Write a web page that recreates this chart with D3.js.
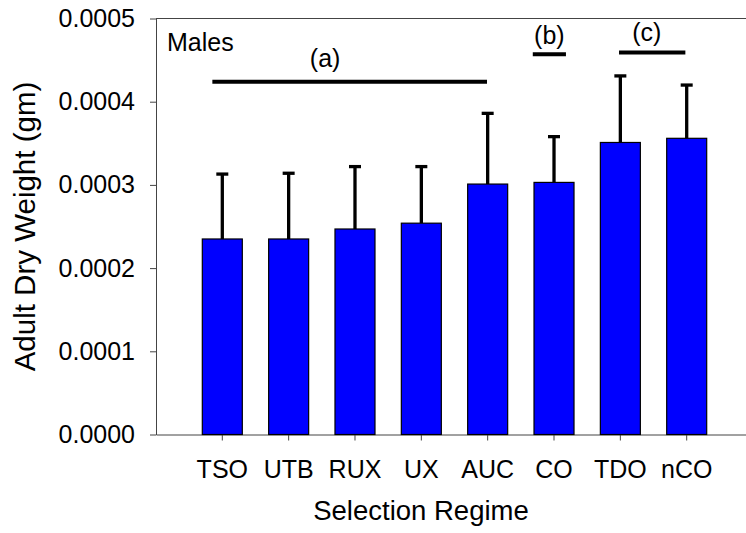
<!DOCTYPE html>
<html>
<head>
<meta charset="utf-8">
<script src="https://cdn.jsdelivr.net/npm/d3@7"></script>
<style>
  body { margin: 0; background: #fff; }
  svg { display: block; font-family: "Liberation Sans", Arial, sans-serif; }
  .axis path, .axis line { stroke: #444; }
  .axis text { fill: #000; font-size: 25px; }
</style>
</head>
<body>
<svg id="chart"></svg>
<script>
// data
let regimes = ['TSO', 'UTB', 'RUX', 'UX', 'AUC', 'CO', 'TDO', 'nCO']
let weights = [0.000235, 0.000235, 0.000247, 0.000254, 0.000301, 0.000303, 0.000351, 0.000356]
let errors = [0.000078, 0.000079, 0.000075, 0.000068, 0.000085, 0.000055, 0.000080, 0.000064]
let yTicks = [0, 0.0001, 0.0002, 0.0003, 0.0004, 0.0005]

// significance groups (from/to/labelAt are in category index units)
let groupLabels = ['(a)', '(b)', '(c)']
let groupFrom = [-0.15, 4.68, 5.98]
let groupTo = [3.99, 5.18, 6.98]
let groupLabelAt = [1.55, 4.93, 6.4]
let groupLevel = [0.000424, 0.000457, 0.000459]
let groupLabelLevel = [0.000442, 0.000469, 0.000473]

function getConfig(){
    let width = 746, height = 533
    let margin = { left: 156, top: 18.5, bottom: 98.5 }
    let plotRight = 753
    let container = d3.select('#chart')
        .attr('width', width)
        .attr('height', height)
    return { width, height, margin, plotRight, container }
}

function getScales(config){
    let { margin, height, plotRight } = config
    let xScale = d3.scaleBand()
        .domain(regimes)
        .range([margin.left, plotRight])
        .paddingInner(0.397)
        .paddingOuter(0.698)
    let yScale = d3.scaleLinear()
        .domain([0, 0.0005])
        .range([height - margin.bottom, margin.top])
    // index -> centre of that category
    let idxScale = d3.scaleLinear()
        .domain([0, 1])
        .range([xScale(regimes[0]) + xScale.bandwidth() / 2,
                xScale(regimes[1]) + xScale.bandwidth() / 2])
    return { xScale, yScale, idxScale }
}

function drawAxes(scales, config){
    let { xScale, yScale } = scales
    let { container, margin, height, plotRight } = config

    // top frame line
    container.append('line')
        .attr('x1', margin.left).attr('x2', plotRight)
        .attr('y1', yScale(0.0005)).attr('y2', yScale(0.0005))
        .attr('stroke', '#444')

    container.append('g')
        .attr('class', 'axis')
        .attr('transform', `translate(0,${yScale(0)})`)
        .call(d3.axisBottom(xScale).tickSize(6).tickSizeOuter(0).tickPadding(20))

    container.append('g')
        .attr('class', 'axis')
        .attr('transform', `translate(${margin.left},0)`)
        .call(d3.axisLeft(yScale).tickValues(yTicks).tickFormat(d3.format('.4f'))
            .tickSize(6).tickSizeOuter(0).tickPadding(15))

    container.append('text')
        .attr('x', 421).attr('y', 520)
        .attr('text-anchor', 'middle')
        .style('font-size', '27.5px')
        .text('Selection Regime')

    container.append('text')
        .attr('transform', `translate(35,${(yScale(0) + yScale(0.0005)) / 2}) rotate(-90)`)
        .attr('text-anchor', 'middle')
        .style('font-size', '29.5px')
        .text('Adult Dry Weight (gm)')
}

function drawBars(scales, config){
    let { xScale, yScale } = scales
    let { container } = config
    let data = regimes.map((r, i) => ({ r, w: weights[i], e: errors[i] }))
    let cx = d => xScale(d.r) + xScale.bandwidth() / 2

    let errG = container.append('g')
    errG.selectAll('line.stem').data(data).join('line')
        .attr('x1', cx).attr('x2', cx)
        .attr('y1', d => yScale(d.w)).attr('y2', d => yScale(d.w + d.e))
        .attr('stroke', '#000').attr('stroke-width', 3.3)
    errG.selectAll('line.cap').data(data).join('line')
        .attr('x1', d => cx(d) - 6).attr('x2', d => cx(d) + 6)
        .attr('y1', d => yScale(d.w + d.e)).attr('y2', d => yScale(d.w + d.e))
        .attr('stroke', '#000').attr('stroke-width', 3.3)

    container.append('g').selectAll('rect').data(data).join('rect')
        .attr('x', d => xScale(d.r))
        .attr('y', d => yScale(d.w))
        .attr('width', xScale.bandwidth())
        .attr('height', d => yScale(0) - yScale(d.w))
        .attr('fill', '#0000ff')
        .attr('stroke', '#000')
        .attr('stroke-width', 1.2)
}

function drawGroups(scales, config){
    let { yScale, idxScale } = scales
    let { container } = config
    groupLabels.forEach((label, i) => {
        container.append('line')
            .attr('x1', idxScale(groupFrom[i])).attr('x2', idxScale(groupTo[i]))
            .attr('y1', yScale(groupLevel[i])).attr('y2', yScale(groupLevel[i]))
            .attr('stroke', '#000').attr('stroke-width', 4)
        container.append('text')
            .attr('x', idxScale(groupLabelAt[i]))
            .attr('y', yScale(groupLabelLevel[i]))
            .attr('text-anchor', 'middle')
            .style('font-size', '25px')
            .text(label)
    })
    container.append('text')
        .attr('x', 167).attr('y', 51)
        .style('font-size', '25px')
        .text('Males')
}

let config = getConfig()
let scales = getScales(config)
drawAxes(scales, config)
drawBars(scales, config)
drawGroups(scales, config)
</script>
</body>
</html>
